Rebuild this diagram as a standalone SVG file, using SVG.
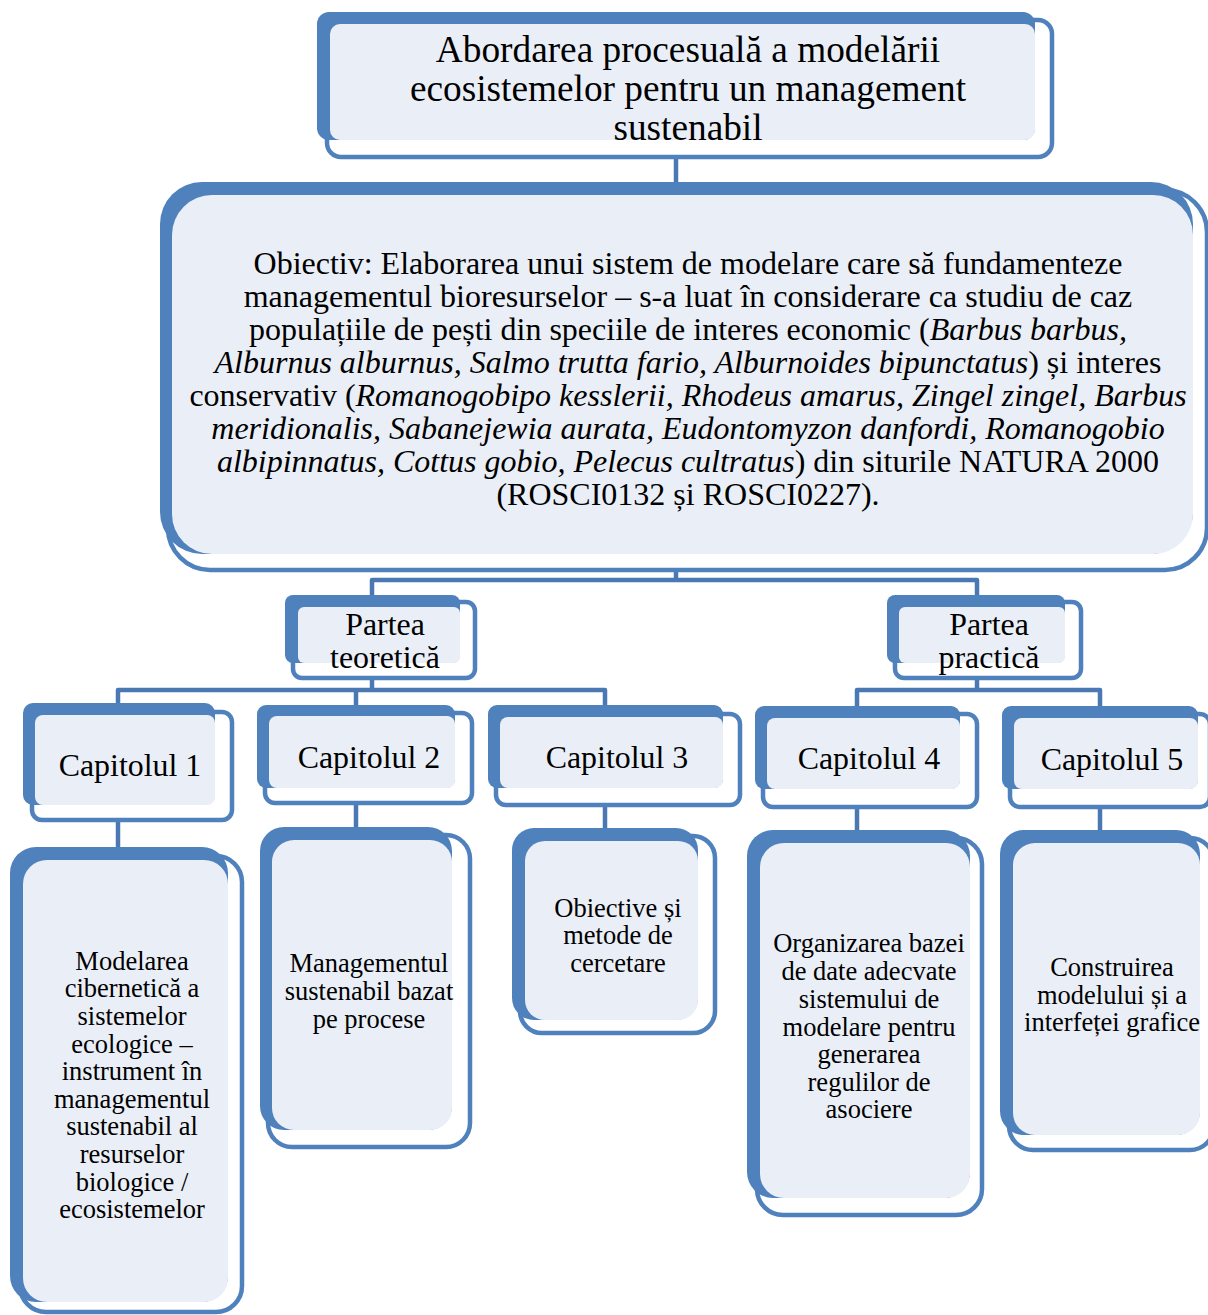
<svg xmlns="http://www.w3.org/2000/svg" width="1208" height="1315" viewBox="0 0 1208 1315">
<style>
.ol{fill:#ffffff;stroke:#4f81bd;stroke-width:4.5}
.bk{fill:#4f81bd}
.lt{fill:#eaeff7}
.cn{fill:none;stroke:#4a78b3;stroke-width:4.5;stroke-linejoin:round}
text{font-family:"Liberation Serif","Times New Roman",serif;fill:#000;text-anchor:middle}
.t1{font-size:37.3px}
.t2{font-size:32px}
.t3{font-size:31.9px}
.t4{font-size:26.5px}
.i{font-style:italic}
</style>
<rect width="1208" height="1315" fill="#ffffff"/>
<g id="connectors">
<path class="cn" d="M676 157 V182"/>
<path class="cn" d="M676 562 V580"/>
<path class="cn" d="M372 598 V580 H977 V598"/>
<path class="cn" d="M372 678 V690"/>
<path class="cn" d="M118 705 V690 H605 V705"/>
<path class="cn" d="M356 690 V705"/>
<path class="cn" d="M977 678 V690"/>
<path class="cn" d="M857 706 V690 H1100 V706"/>
<path class="cn" d="M118 820 V848"/>
<path class="cn" d="M356 803 V828"/>
<path class="cn" d="M605 805 V829"/>
<path class="cn" d="M857 807 V831"/>
<path class="cn" d="M1100 807 V831"/>
</g>
<g id="title">
<rect class="ol" x="327" y="20" width="725" height="137" rx="14"/>
<rect class="bk" x="317" y="12" width="718" height="128" rx="12"/>
<rect class="lt" x="330" y="24" width="705" height="116" rx="10"/>
<text class="t1" x="688" y="62">Abordarea procesuală a modelării</text>
<text class="t1" x="688" y="101">ecosistemelor pentru un management</text>
<text class="t1" x="688" y="140">sustenabil</text>
</g>
<g id="objective">
<rect class="ol" x="168" y="190" width="1039" height="380" rx="42"/>
<rect class="bk" x="160" y="182" width="1033" height="372" rx="42"/>
<rect class="lt" x="172" y="195" width="1021" height="359" rx="40"/>
<text class="t2" x="688" y="274">Obiectiv: Elaborarea unui sistem de modelare care să fundamenteze</text>
<text class="t2" x="688" y="307">managementul bioresurselor – s-a luat în considerare ca studiu de caz</text>
<text class="t2" x="688" y="340">populațiile de pești din speciile de interes economic (<tspan class="i">Barbus barbus,</tspan></text>
<text class="t2" x="688" y="373"><tspan class="i">Alburnus alburnus, Salmo trutta fario, Alburnoides bipunctatus</tspan>) și interes</text>
<text class="t2" x="688" y="406">conservativ (<tspan class="i">Romanogobipo kesslerii, Rhodeus amarus, Zingel zingel, Barbus</tspan></text>
<text class="t2" x="688" y="439"><tspan class="i">meridionalis, Sabanejewia aurata, Eudontomyzon danfordi, Romanogobio</tspan></text>
<text class="t2" x="688" y="472"><tspan class="i">albipinnatus, Cottus gobio, Pelecus cultratus</tspan>) din siturile NATURA 2000</text>
<text class="t2" x="688" y="505">(ROSCI0132 și ROSCI0227).</text>
</g>
<g id="partea-teoretica">
<rect class="ol" x="293" y="602" width="182" height="76" rx="9"/>
<rect class="bk" x="285" y="595" width="175" height="68" rx="8"/>
<rect class="lt" x="298" y="607" width="162" height="56" rx="6"/>
<text class="t3" x="385" y="635">Partea</text>
<text class="t3" x="385" y="668">teoretică</text>
</g>
<g id="partea-practica">
<rect class="ol" x="895" y="602" width="186" height="76" rx="9"/>
<rect class="bk" x="887" y="595" width="178" height="68" rx="8"/>
<rect class="lt" x="899" y="607" width="166" height="56" rx="6"/>
<text class="t3" x="989" y="635">Partea</text>
<text class="t3" x="989" y="668">practică</text>
</g>
<g id="capitolul-1">
<rect class="ol" x="32" y="712" width="200" height="108" rx="10"/>
<rect class="bk" x="23" y="703" width="192" height="102" rx="10"/>
<rect class="lt" x="35" y="715" width="180" height="90" rx="8"/>
<text class="t3" x="130" y="776">Capitolul 1</text>
</g>
<g id="capitolul-2">
<rect class="ol" x="265" y="713" width="207" height="90" rx="10"/>
<rect class="bk" x="257" y="705" width="198" height="83" rx="9"/>
<rect class="lt" x="269" y="716" width="186" height="72" rx="8"/>
<text class="t3" x="369" y="768">Capitolul 2</text>
</g>
<g id="capitolul-3">
<rect class="ol" x="496" y="714" width="244" height="91" rx="10"/>
<rect class="bk" x="488" y="705" width="235" height="83" rx="9"/>
<rect class="lt" x="500" y="717" width="223" height="71" rx="8"/>
<text class="t3" x="617" y="768">Capitolul 3</text>
</g>
<g id="capitolul-4">
<rect class="ol" x="763" y="714" width="214" height="93" rx="10"/>
<rect class="bk" x="755" y="706" width="205" height="83" rx="9"/>
<rect class="lt" x="767" y="718" width="193" height="71" rx="8"/>
<text class="t3" x="869" y="769">Capitolul 4</text>
</g>
<g id="capitolul-5">
<rect class="ol" x="1010" y="714" width="200" height="93" rx="10"/>
<rect class="bk" x="1002" y="706" width="196" height="83" rx="9"/>
<rect class="lt" x="1014" y="718" width="184" height="71" rx="8"/>
<text class="t3" x="1112" y="770">Capitolul 5</text>
</g>
<g id="box-1">
<rect class="ol" x="20" y="856" width="222" height="456" rx="26"/>
<rect class="bk" x="10" y="847" width="218" height="455" rx="26"/>
<rect class="lt" x="23" y="860" width="205" height="442" rx="24"/>
<text class="t4" x="132" y="970">Modelarea</text>
<text class="t4" x="132" y="997">cibernetică a</text>
<text class="t4" x="132" y="1025">sistemelor</text>
<text class="t4" x="132" y="1053">ecologice –</text>
<text class="t4" x="132" y="1080">instrument în</text>
<text class="t4" x="132" y="1108">managementul</text>
<text class="t4" x="132" y="1135">sustenabil al</text>
<text class="t4" x="132" y="1163">resurselor</text>
<text class="t4" x="132" y="1191">biologice /</text>
<text class="t4" x="132" y="1218">ecosistemelor</text>
</g>
<g id="box-2">
<rect class="ol" x="268" y="835" width="202" height="312" rx="24"/>
<rect class="bk" x="260" y="827" width="192" height="303" rx="24"/>
<rect class="lt" x="272" y="840" width="180" height="290" rx="22"/>
<text class="t4" x="369" y="972">Managementul</text>
<text class="t4" x="369" y="1000">sustenabil bazat</text>
<text class="t4" x="369" y="1028">pe procese</text>
</g>
<g id="box-3">
<rect class="ol" x="520" y="836" width="195" height="197" rx="22"/>
<rect class="bk" x="512" y="828" width="186" height="192" rx="22"/>
<rect class="lt" x="525" y="841" width="173" height="179" rx="20"/>
<text class="t4" x="618" y="917">Obiective și</text>
<text class="t4" x="618" y="944">metode de</text>
<text class="t4" x="618" y="972">cercetare</text>
</g>
<g id="box-4">
<rect class="ol" x="757" y="838" width="225" height="377" rx="26"/>
<rect class="bk" x="747" y="830" width="223" height="368" rx="26"/>
<rect class="lt" x="760" y="843" width="210" height="355" rx="24"/>
<text class="t4" x="869" y="952">Organizarea bazei</text>
<text class="t4" x="869" y="980">de date adecvate</text>
<text class="t4" x="869" y="1008">sistemului de</text>
<text class="t4" x="869" y="1036">modelare pentru</text>
<text class="t4" x="869" y="1063">generarea</text>
<text class="t4" x="869" y="1091">regulilor de</text>
<text class="t4" x="869" y="1118">asociere</text>
</g>
<g id="box-5">
<rect class="ol" x="1009" y="838" width="205" height="312" rx="24"/>
<rect class="bk" x="1000" y="830" width="200" height="305" rx="24"/>
<rect class="lt" x="1013" y="843" width="187" height="292" rx="22"/>
<text class="t4" x="1112" y="976">Construirea</text>
<text class="t4" x="1112" y="1004">modelului și a</text>
<text class="t4" x="1112" y="1031">interfeței grafice</text>
</g>
</svg>
